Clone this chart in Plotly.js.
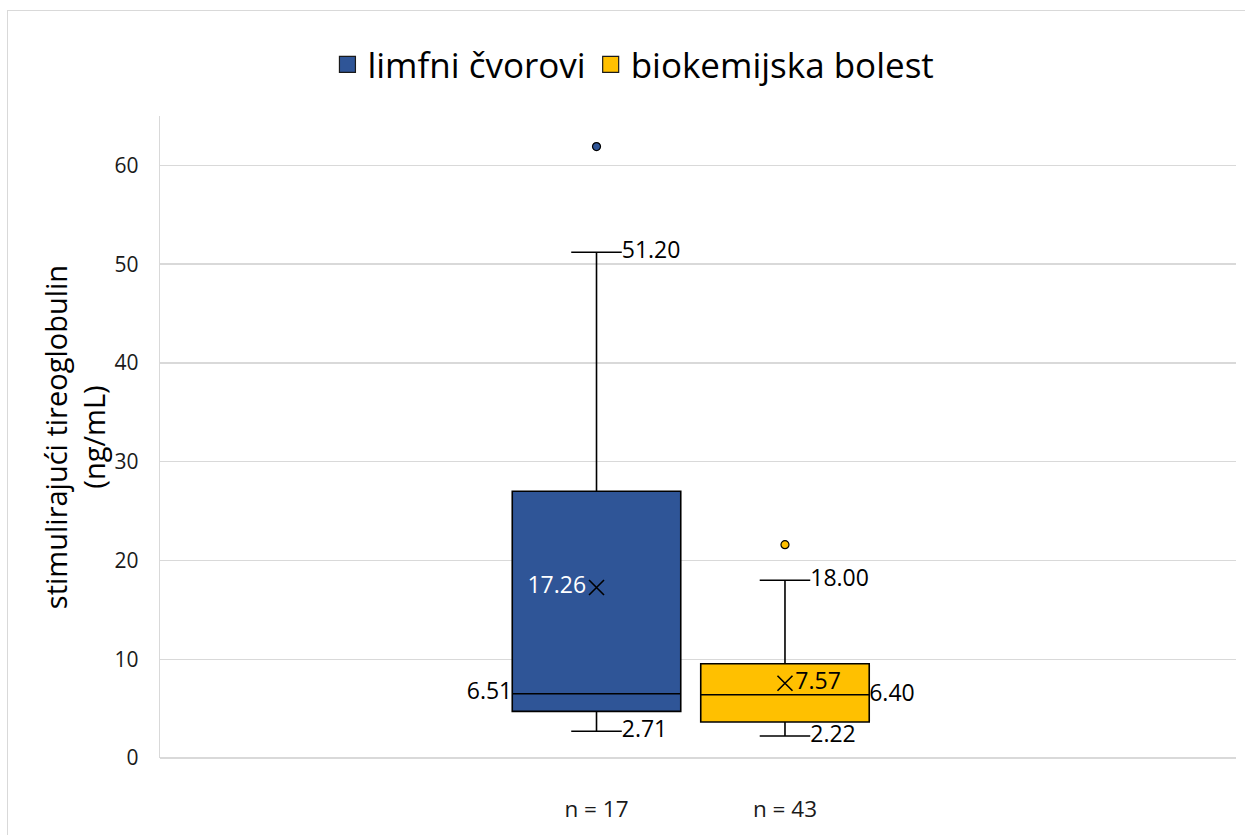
<!DOCTYPE html>
<html>
<head>
<meta charset="utf-8">
<script src="https://cdn.plot.ly/plotly-3.0.1.min.js"></script>
<style>
  html, body { margin: 0; padding: 0; background: #fff; overflow: hidden; }
  #wrap { position: relative; width: 1245px; height: 835px; }
  #chart { width: 1245px; height: 835px; }
  #frame { position: absolute; left: 7px; top: 10px; width: 1400px; height: 1000px;
           border-left: 1px solid #d9d9d9; border-top: 1px solid #d9d9d9; pointer-events: none; }
</style>
</head>
<body>
<div id="wrap">
  <div id="chart"></div>
  <div id="frame"></div>
</div>
<script>
// ---- data ----
const seriesNames = ["limfni čvorovi", "biokemijska bolest"];
const categoryLabels = ["n = 17", "n = 43"];
const positions = [0, 1];
const q1Values = [4.72, 3.65];
const medianValues = [6.51, 6.40];
const q3Values = [27.0, 9.55];
const lowerWhisker = [2.71, 2.22];
const upperWhisker = [51.20, 18.00];
const meanValues = [17.26, 7.57];
const outlierValues = [[61.9], [21.6]];
const colors = ["#2F5597", "#FFC000"];

// ---- styling ----
const FONT = "'Open Sans', 'Noto Sans', sans-serif";
const boxWidth = 0.894;
const whiskerW = 0.3;
const capHalf = boxWidth * whiskerW / 2;
const labelFont = {family: FONT, size: 23, color: "#000"};

const traces = [];

positions.forEach((p, i) => {
  traces.push({
    type: "box",
    name: seriesNames[i],
    x: [p],
    q1: [q1Values[i]],
    median: [medianValues[i]],
    q3: [q3Values[i]],
    lowerfence: [lowerWhisker[i]],
    upperfence: [upperWhisker[i]],
    width: boxWidth,
    whiskerwidth: whiskerW,
    fillcolor: colors[i],
    line: {color: "#000", width: 1.6},
    boxpoints: false,
    showlegend: false,
    hoverinfo: "skip"
  });
  // outliers
  traces.push({
    type: "scatter", mode: "markers",
    x: outlierValues[i].map(() => p),
    y: outlierValues[i],
    marker: {symbol: "circle", size: 8, color: colors[i], line: {color: "#000", width: 1.2}},
    showlegend: false, hoverinfo: "skip"
  });
  // legend entries
  traces.push({
    type: "scatter", mode: "markers",
    name: seriesNames[i],
    x: [null], y: [null],
    marker: {symbol: "square", size: 20, color: colors[i], line: {color: "#1a1a1a", width: 1.2}},
    showlegend: true
  });
});

// mean markers with labels
traces.push({
  type: "scatter", mode: "markers+text",
  x: positions, y: meanValues,
  text: meanValues.map(v => v.toFixed(2)),
  textposition: ["middle left", "middle right"],
  textfont: {family: FONT, size: 23, color: ["#ffffff", "#000000"]},
  marker: {symbol: "x-thin", size: 15, line: {color: "#000", width: 1.6}, color: "#000"},
  showlegend: false, hoverinfo: "skip", cliponaxis: false
});

// whisker labels (upper & lower)
traces.push({
  type: "scatter", mode: "text",
  x: positions.map(p => p + capHalf).concat(positions.map(p => p + capHalf)),
  y: upperWhisker.concat(lowerWhisker),
  text: upperWhisker.concat(lowerWhisker).map(v => v.toFixed(2)),
  textposition: "middle right",
  textfont: labelFont,
  showlegend: false, hoverinfo: "skip", cliponaxis: false
});

// median labels
traces.push({
  type: "scatter", mode: "text",
  x: [positions[0] - boxWidth / 2, positions[1] + boxWidth / 2],
  y: medianValues,
  text: medianValues.map(v => v.toFixed(2)),
  textposition: ["middle left", "middle right"],
  textfont: labelFont,
  showlegend: false, hoverinfo: "skip", cliponaxis: false
});

const layout = {
  width: 1245, height: 835,
  margin: {l: 160, r: 9, t: 116, b: 77},
  paper_bgcolor: "#fff", plot_bgcolor: "#fff",
  font: {family: FONT, color: "#000"},
  showlegend: true,
  legend: {
    orientation: "h", x: 0.44, xanchor: "center", y: 1.08, yanchor: "middle",
    font: {family: FONT, size: 35, color: "#000"},
    itemclick: false, itemdoubleclick: false
  },
  boxmode: "overlay",
  xaxis: {
    range: [-2.316, 3.393],
    tickvals: positions, ticktext: categoryLabels,
    showgrid: false, zeroline: false, showline: false,
    ticks: "", ticklabelstandoff: 35,
    tickfont: {family: FONT, size: 22.5, color: "#1a1a1a"},
    fixedrange: true
  },
  yaxis: {
    range: [0, 65], dtick: 10, tick0: 0,
    showgrid: true, gridcolor: "#d9d9d9", gridwidth: 1.4,
    zeroline: true, zerolinecolor: "#d9d9d9", zerolinewidth: 1.4,
    showline: true, linecolor: "#d9d9d9", linewidth: 1.4,
    ticks: "", ticklabelstandoff: 16,
    tickfont: {family: FONT, size: 21, color: "#1a1a1a"},
    title: {text: "stimulirajući tireoglobulin<br>(ng/mL)", font: {family: FONT, size: 29, color: "#000"}, standoff: 0},
    fixedrange: true
  }
};

Plotly.newPlot("chart", traces, layout, {displayModeBar: false, staticPlot: true});
</script>
</body>
</html>
